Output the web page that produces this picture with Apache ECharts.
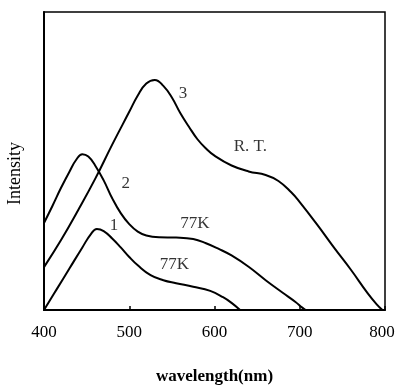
<!DOCTYPE html>
<html>
<head>
<meta charset="utf-8">
<script src="https://cdn.jsdelivr.net/npm/echarts@6/dist/echarts.min.js"></script>
<style>
  html, body { margin: 0; padding: 0; background: #fff; }
  #chart { width: 395px; height: 387px; }
</style>
</head>
<body>
<div id="chart"></div>
<script>
// wavelength (nm) / relative intensity
const curveRT = [
  [400, 14.4], [420, 23.5], [440, 33.5], [460, 44], [480, 55.5], [500, 66.5],
  [510, 72], [520, 76], [530, 77.2], [540, 75.2], [550, 71.3], [560, 66],
  [570, 61.5], [580, 57.3], [590, 54.2], [600, 51.8], [620, 48.5], [640, 46.5],
  [660, 45.3], [675, 43.3], [690, 39.5], [700, 36.2], [720, 28.8], [740, 21],
  [760, 13.5], [780, 5.5], [790, 2], [797, 0]
];
const curve77K2 = [
  [400, 29.2], [410, 35], [420, 41], [430, 46.5], [438, 50.5], [445, 52.3],
  [452, 51.5], [460, 48.5], [470, 43.5], [480, 37.5], [490, 32.5], [500, 28.8],
  [510, 26.3], [520, 25], [535, 24.4], [555, 24.3], [575, 23.8], [590, 22.4],
  [605, 20.5], [620, 18.3], [640, 14.5], [660, 10], [680, 5.8], [695, 2.7],
  [703, 0.8], [707, 0]
];
const curve77K1 = [
  [400, 0], [415, 7], [430, 14], [445, 21], [455, 25.5], [462, 27.2],
  [470, 26.5], [480, 24], [490, 21], [500, 17.8], [510, 15], [525, 11.7],
  [540, 10], [555, 9], [575, 7.8], [595, 6.4], [610, 4.3], [620, 2.4], [630, 0]
];
const xTicks = [400, 500, 600, 700, 800];
// curve annotations placed in data space
const annotations = [
  [563, 72.8, '3'],
  [496, 42.3, '2'],
  [482, 28.2, '1'],
  [577, 29.0, '77K'],
  [553, 15.4, '77K'],
  [642, 55.0, 'R. T.']
];

const FONT = '"Liberation Serif", "DejaVu Serif", serif';
const chart = echarts.init(document.getElementById('chart'));

const lineSeries = (data) => ({
  type: 'line',
  data: data,
  smooth: 0.45,
  symbol: 'none',
  lineStyle: { color: '#000', width: 2 },
  z: 3
});

chart.setOption({
  backgroundColor: '#fff',
  animation: false,
  grid: {
    left: 44, right: 10, top: 12, bottom: 77,
    containLabel: false,
    outerBoundsMode: 'none',
    show: true, borderColor: '#000', borderWidth: 1.5
  },
  xAxis: {
    type: 'value',
    min: 400, max: 800, interval: 100,
    name: 'wavelength(nm)',
    nameLocation: 'middle',
    nameGap: 58,
    nameTextStyle: { fontFamily: FONT, fontSize: 17, fontWeight: 'bold', color: '#000' },
    axisLine: { lineStyle: { color: '#000', width: 2 } },
    axisTick: { inside: true, length: 4, lineStyle: { color: '#000', width: 1.5 } },
    axisLabel: {
      margin: 14,
      fontFamily: FONT, fontSize: 17, color: '#000',
      // last label nudged left so it stays inside the canvas
      formatter: (v) => {
        if (!xTicks.includes(v)) return '';
        return v === 800 ? '{last|' + v + '}' : String(v);
      },
      rich: {
        last: { fontFamily: FONT, fontSize: 17, color: '#000', padding: [0, 6, 0, 0] }
      }
    },
    splitLine: { show: false }
  },
  yAxis: {
    type: 'value',
    min: 0, max: 100,
    axisLine: { show: true, lineStyle: { color: '#000', width: 2 } },
    axisTick: { show: false },
    axisLabel: { show: false },
    splitLine: { show: false }
  },
  graphic: [{
    type: 'text',
    left: 6, top: 142,
    rotation: Math.PI / 2,
    style: { text: 'Intensity', font: '18px ' + FONT, fill: '#000' }
  }],
  series: [
    lineSeries(curveRT),
    lineSeries(curve77K2),
    lineSeries(curve77K1),
    {
      type: 'scatter',
      data: annotations,
      symbolSize: 1,
      itemStyle: { color: 'rgba(0,0,0,0)' },
      silent: true,
      label: {
        show: true,
        position: 'inside',
        formatter: (p) => p.value[2],
        fontFamily: FONT, fontSize: 17, color: '#000'
      },
      z: 4
    }
  ]
});
</script>
</body>
</html>
